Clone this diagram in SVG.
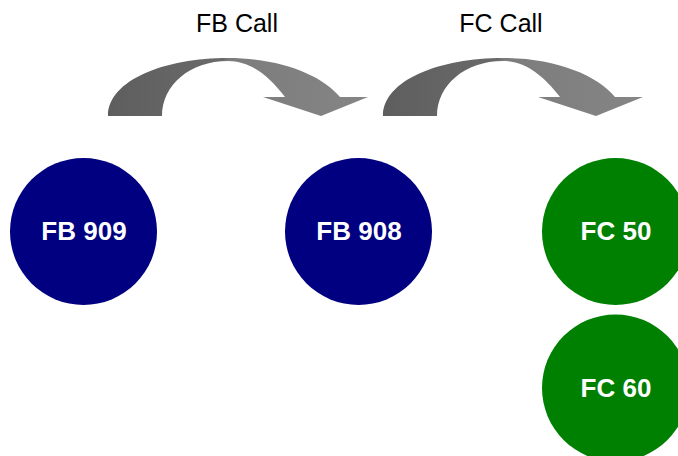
<svg xmlns="http://www.w3.org/2000/svg" width="678" height="456" viewBox="0 0 678 456">
<style>
.lbl{font-family:"Liberation Sans",Arial,sans-serif;font-size:25px;fill:#000;text-anchor:middle}
.nt{font-family:"Liberation Sans",Arial,sans-serif;font-size:26px;font-weight:bold;fill:#fff;text-anchor:middle}
.fb{fill:#000080}
.fc{fill:#008000}
</style>
<defs>
<linearGradient id="g1" gradientUnits="userSpaceOnUse" x1="108" y1="0" x2="368" y2="0">
<stop offset="0" stop-color="#5e5e5e"/>
<stop offset="0.44" stop-color="#6a6a6a"/>
<stop offset="0.465" stop-color="#7c7c7c"/>
<stop offset="1" stop-color="#858585"/>
</linearGradient>
<linearGradient id="g2" gradientUnits="userSpaceOnUse" x1="383" y1="0" x2="643" y2="0">
<stop offset="0" stop-color="#5e5e5e"/>
<stop offset="0.44" stop-color="#6a6a6a"/>
<stop offset="0.465" stop-color="#7c7c7c"/>
<stop offset="1" stop-color="#858585"/>
</linearGradient>
</defs>
<g id="connectors">
<g id="fb-call">
<path fill="url(#g1)" d="M108,116 C108,80 165,58 228,58 C280,58 322,75 340,97 L368,97 L321,116 L263,97 L285,97 C268,75 250,61 228,61 C190,61 162,85 162,116 Z"/>
<text class="lbl" x="237" y="32">FB Call</text>
</g>
<g id="fc-call">
<path fill="url(#g2)" d="M383,116 C383,80 440,58 503,58 C555,58 597,75 615,97 L643,97 L596,116 L538,97 L560,97 C543,75 525,61 503,61 C465,61 437,85 437,116 Z"/>
<text class="lbl" x="501" y="32">FC Call</text>
</g>
</g>
<g id="fb909"><circle class="fb" cx="83.5" cy="231.5" r="73.5"/><text class="nt" x="84" y="240">FB 909</text></g>
<g id="fb908"><circle class="fb" cx="358.5" cy="231.5" r="73.5"/><text class="nt" x="359" y="240">FB 908</text></g>
<g id="fc50"><circle class="fc" cx="615.5" cy="231.5" r="73.5"/><text class="nt" x="616" y="240">FC 50</text></g>
<g id="fc60"><circle class="fc" cx="615.5" cy="388" r="73.5"/><text class="nt" x="616" y="397">FC 60</text></g>
</svg>
